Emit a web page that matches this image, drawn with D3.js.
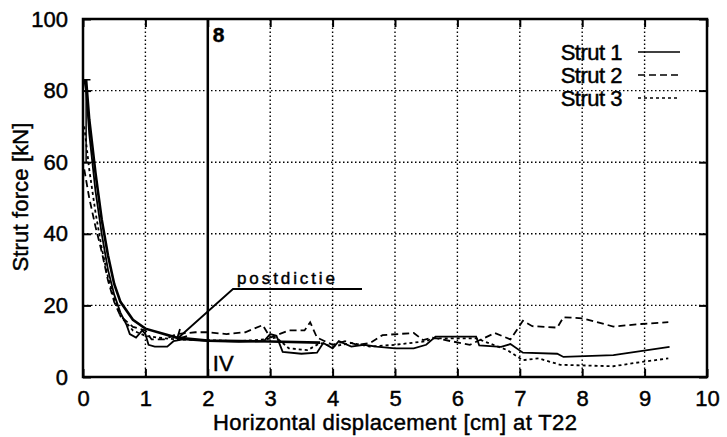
<!DOCTYPE html>
<html>
<head>
<meta charset="utf-8">
<script src="https://cdn.jsdelivr.net/npm/d3@7"></script>
<style>
  body { margin: 0; background: #fff; }
  text { font-family: "Liberation Sans", Arial, sans-serif; fill: #000; stroke: #000; stroke-width: 0.45px; }
</style>
</head>
<body>
<svg id="chart" width="727" height="437"></svg>
<script>
// data
const xTicks = [0, 1, 2, 3, 4, 5, 6, 7, 8, 9, 10];
const yTicks = [0, 20, 40, 60, 80, 100];

const strut1 = [
  [0.02, 83], [0.05, 80], [0.1, 68], [0.2, 52], [0.3, 40], [0.4, 30], [0.5, 23],
  [0.6, 18], [0.7, 14.5], [0.75, 12], [0.85, 11], [0.95, 13], [1.0, 12], [1.05, 9],
  [1.15, 8.5], [1.35, 8.5], [1.45, 10], [1.6, 10.5], [2.0, 10], [2.5, 9.8], [2.9, 10],
  [3.0, 12], [3.1, 11.5], [3.2, 7], [3.5, 6.5], [3.75, 6.8], [3.85, 9.5], [4.0, 8],
  [4.1, 10], [4.3, 8.5], [4.5, 9], [4.7, 8.5], [5.0, 8], [5.3, 8], [5.5, 9],
  [5.65, 11.3], [6.3, 11.3], [6.35, 8.8], [6.7, 8.4], [6.85, 9.2], [7.05, 6.8],
  [7.6, 6.5], [7.7, 5.6], [8.5, 6.1], [9.4, 8.4],
];
const strut2 = [
  [0.02, 58], [0.1, 50], [0.2, 42], [0.3, 35], [0.4, 27], [0.5, 21], [0.6, 17],
  [0.8, 14], [1.0, 13], [1.1, 10.5], [1.3, 10.5], [1.5, 12], [1.8, 12.5], [2.0, 12.5],
  [2.3, 12], [2.6, 12.5], [2.88, 14.5], [3.0, 11], [3.3, 13], [3.55, 13], [3.64, 15.3],
  [3.75, 11], [4.0, 9], [4.2, 10], [4.4, 9], [4.6, 9.5], [4.8, 11.7], [5.3, 12.3],
  [5.45, 10.3], [5.6, 11], [6.2, 9], [6.6, 12.3], [6.85, 10.5], [7.05, 15.7],
  [7.2, 14.2], [7.6, 13.8], [7.7, 16.7], [8.0, 16.4], [8.5, 14.1], [8.95, 14.8],
  [9.38, 15.3],
];
const strut3 = [
  [0.02, 70], [0.1, 58], [0.2, 46], [0.3, 36], [0.4, 28], [0.5, 22], [0.6, 17],
  [0.8, 13], [1.0, 11.5], [1.2, 11], [1.5, 10.5], [2.0, 10.3], [2.5, 10], [2.9, 10.5],
  [3.1, 11], [3.3, 8], [3.6, 7.5], [3.8, 9.5], [4.0, 8.5], [4.3, 9.5], [4.6, 8.5],
  [5.0, 9], [5.5, 10], [5.6, 10.8], [6.3, 10.8], [6.8, 7.5], [7.05, 4.7], [7.3, 5.2],
  [7.65, 3.4], [8.5, 3.0], [8.95, 4.2], [9.38, 5.2],
];
const postdictie = [
  [0.05, 83], [0.1, 72], [0.2, 57], [0.3, 44], [0.4, 34], [0.5, 26], [0.6, 21],
  [0.8, 16], [1.0, 13.5], [1.2, 12.5], [1.5, 11], [2.0, 10.2], [3.0, 9.9], [3.8, 9.6],
];
const legendItems = [
  { name: "Strut 1", dash: null },
  { name: "Strut 2", dash: "7,4" },
  { name: "Strut 3", dash: "3,3" },
];

const svg = d3.select("#chart");
const x = d3.scaleLinear().domain([0, 10]).range([83, 707]);
const y = d3.scaleLinear().domain([0, 100]).range([377, 19]);
const line = d3.line().x((d) => x(d[0])).y((d) => y(d[1]));

// dotted grid
svg.append("g")
  .selectAll("line")
  .data(xTicks.slice(1, -1))
  .join("line")
  .attr("x1", (d) => x(d)).attr("x2", (d) => x(d))
  .attr("y1", y(0)).attr("y2", y(100))
  .attr("stroke", "#000").attr("stroke-width", 1.4).attr("stroke-dasharray", "1.5,2.5");
svg.append("g")
  .selectAll("line")
  .data(yTicks.slice(1, -1))
  .join("line")
  .attr("x1", x(0)).attr("x2", x(10))
  .attr("y1", (d) => y(d)).attr("y2", (d) => y(d))
  .attr("stroke", "#000").attr("stroke-width", 1.4).attr("stroke-dasharray", "1.5,2.5");

// axes with inward ticks
svg.append("g")
  .attr("transform", `translate(0,${y(0)})`)
  .call(d3.axisBottom(x).tickValues(xTicks).tickSize(-8).tickPadding(13))
  .call((g) => g.select(".domain").remove())
  .call((g) => g.selectAll("text").attr("font-size", 22));
svg.append("g")
  .attr("transform", `translate(0,${y(100)})`)
  .call(d3.axisTop(x).tickValues(xTicks).tickSize(-8).tickFormat(""))
  .call((g) => g.select(".domain").remove());
svg.append("g")
  .attr("transform", `translate(${x(0)},0)`)
  .call(d3.axisLeft(y).tickValues(yTicks).tickSize(-8).tickPadding(15))
  .call((g) => g.select(".domain").remove())
  .call((g) => g.selectAll("text").attr("font-size", 22));
svg.append("g")
  .attr("transform", `translate(${x(10)},0)`)
  .call(d3.axisRight(y).tickValues(yTicks).tickSize(-8).tickFormat(""))
  .call((g) => g.select(".domain").remove());
svg.selectAll(".tick line").attr("stroke-width", 2);

svg.append("rect")
  .attr("x", x(0)).attr("y", y(100))
  .attr("width", x(10) - x(0)).attr("height", y(0) - y(100))
  .attr("fill", "none").attr("stroke", "#000").attr("stroke-width", 2.5);

// axis titles
svg.append("text")
  .attr("x", 395).attr("y", 430)
  .attr("text-anchor", "middle").attr("font-size", 22)
  .attr("textLength", 364)
  .text("Horizontal displacement [cm] at T22");
svg.append("text")
  .attr("transform", "translate(28,197) rotate(-90)")
  .attr("text-anchor", "middle").attr("font-size", 22)
  .attr("textLength", 149)
  .text("Strut force [kN]");

// vertical marker at x = 2
svg.append("line")
  .attr("x1", x(2)).attr("x2", x(2)).attr("y1", y(100)).attr("y2", y(0))
  .attr("stroke", "#000").attr("stroke-width", 2.5);
svg.append("text").attr("x", x(2) + 5).attr("y", 42).attr("font-size", 21)
  .attr("font-weight", "bold").text("8");
svg.append("text").attr("x", x(2) + 5).attr("y", 371).attr("font-size", 22).text("IV");

// series
const series = [
  { data: postdictie, dash: null, w: 2.6 },
  { data: strut1, dash: null, w: 1.8 },
  { data: strut2, dash: "7,4", w: 1.8 },
  { data: strut3, dash: "3,3", w: 1.8 },
];
svg.append("g")
  .selectAll("path")
  .data(series)
  .join("path")
  .attr("d", (d) => line(d.data))
  .attr("fill", "none").attr("stroke", "#000")
  .attr("stroke-width", (d) => d.w)
  .attr("stroke-dasharray", (d) => d.dash);

// error bar cap at start
svg.append("path")
  .attr("d", `M${x(0)},${y(83)}H${x(0.12)}M${x(0.05)},${y(83)}V${y(60)}`)
  .attr("stroke", "#000").attr("stroke-width", 1.5).attr("fill", "none");

// handwritten annotation
svg.append("path")
  .attr("d", "M362,289H233L177,339")
  .attr("fill", "none").attr("stroke", "#000").attr("stroke-width", 1.8);
svg.append("path")
  .attr("d", "M177,339l3,-10M177,339l10,-3")
  .attr("fill", "none").attr("stroke", "#000").attr("stroke-width", 1.8);
svg.append("text")
  .attr("x", 237).attr("y", 284)
  .attr("font-family", "DejaVu Sans")
  .attr("font-size", 17).attr("stroke-width", 0.8)
  .attr("textLength", 98)
  .text("postdictie");

// legend
const leg = svg.append("g")
  .selectAll("g")
  .data(legendItems)
  .join("g")
  .attr("transform", (d, i) => `translate(0,${52 + i * 23})`);
leg.append("text")
  .attr("x", 622).attr("y", 8)
  .attr("text-anchor", "end").attr("font-size", 22)
  .attr("letter-spacing", -0.5)
  .text((d) => d.name);
leg.append("line")
  .attr("x1", 638).attr("x2", 680)
  .attr("stroke", "#000").attr("stroke-width", 1.6)
  .attr("stroke-dasharray", (d) => d.dash);
</script>
</body>
</html>
